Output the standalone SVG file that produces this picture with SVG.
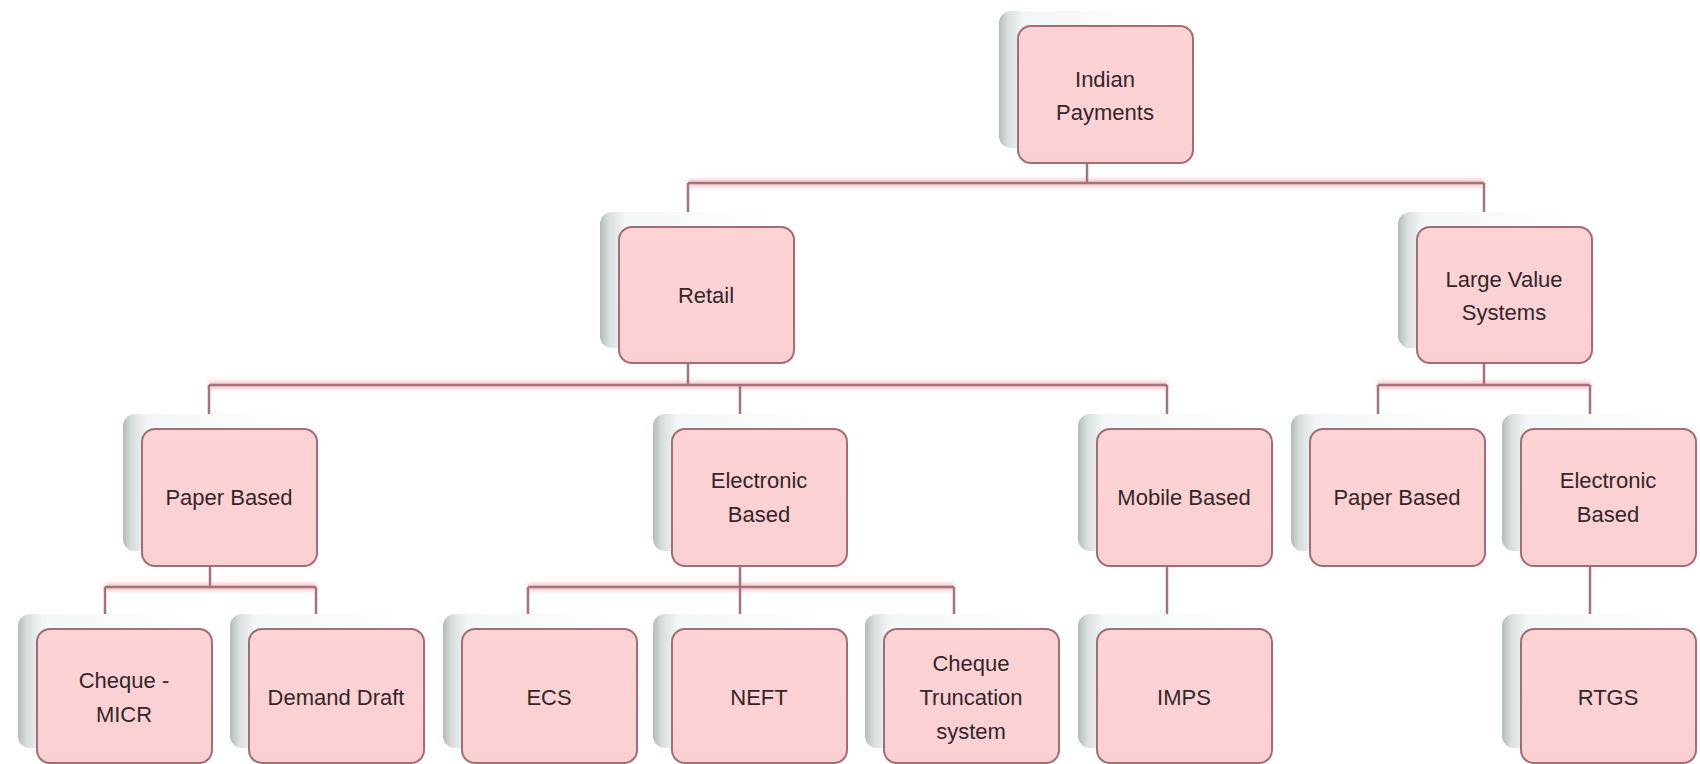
<svg xmlns="http://www.w3.org/2000/svg" width="1700" height="764" viewBox="0 0 1700 764">
  <defs>
    <!-- grey-to-white card sitting behind every node -->
    <linearGradient id="cardShade" x1="0" y1="0" x2="1" y2="0">
      <stop offset="0" stop-color="#b3bbbb"/>
      <stop offset="0.05" stop-color="#d8dede"/>
      <stop offset="0.14" stop-color="#f3f6f6"/>
      <stop offset="1" stop-color="#ffffff"/>
    </linearGradient>
    <linearGradient id="boxFill" x1="0" y1="0" x2="0" y2="1">
      <stop offset="0" stop-color="#fdd3d6"/>
      <stop offset="1" stop-color="#fbd0d3"/>
    </linearGradient>
    <filter id="soft" x="-10%" y="-10%" width="120%" height="120%">
      <feGaussianBlur stdDeviation="2"/>
    </filter>
  </defs>
  <style>
    .card { fill: url(#cardShade); }
    .box { fill: url(#boxFill); stroke: #a46c73; stroke-width: 2; }
    .lbl { font-family: "Liberation Sans", Arial, sans-serif; font-size: 22px; fill: #33262a; text-anchor: middle; }
    .halo { fill: none; stroke: #f1c3c9; stroke-width: 7; }
    .wire { fill: none; stroke: #a8727a; stroke-width: 2.5; }
  </style>

  <rect width="1700" height="764" fill="#ffffff"/>

  <!-- tree connectors -->
  <g id="connectors">
    <g filter="url(#soft)">
      <path class="halo" d="M688 183 H1484 M209 385 H1167 M1378 385 H1590 M105 587 H316 M528 587 H954"/>
    </g>
    <path class="wire" d="M1087 163 V183 M688 183 H1484 M688 183 V214 M1484 183 V214"/>
    <path class="wire" d="M688 363 V385 M209 385 H1167 M209 385 V416 M740 385 V416 M1167 385 V416"/>
    <path class="wire" d="M1484 363 V385 M1378 385 H1590 M1378 385 V416 M1590 385 V416"/>
    <path class="wire" d="M210 566 V587 M105 587 H316 M105 587 V616 M316 587 V616"/>
    <path class="wire" d="M740 566 V587 M528 587 H954 M528 587 V616 M740 587 V616 M954 587 V616"/>
    <path class="wire" d="M1167 566 V616"/>
    <path class="wire" d="M1590 566 V616"/>
  </g>

  <g id="indian-payments">
    <rect class="card" x="999" y="11" width="175" height="137" rx="12"/>
    <rect class="box" x="1018" y="26" width="175" height="137" rx="13"/>
    <text class="lbl" x="1105" y="87">Indian</text>
    <text class="lbl" x="1105" y="120">Payments</text>
  </g>

  <g id="retail">
    <rect class="card" x="600" y="212" width="175" height="136" rx="12"/>
    <rect class="box" x="619" y="227" width="175" height="136" rx="13"/>
    <text class="lbl" x="706" y="303">Retail</text>
  </g>

  <g id="large-value-systems">
    <rect class="card" x="1398" y="212" width="175" height="136" rx="12"/>
    <rect class="box" x="1417" y="227" width="175" height="136" rx="13"/>
    <text class="lbl" x="1504" y="287">Large Value</text>
    <text class="lbl" x="1504" y="320">Systems</text>
  </g>

  <g id="retail-paper-based">
    <rect class="card" x="123" y="414" width="175" height="137" rx="12"/>
    <rect class="box" x="142" y="429" width="175" height="137" rx="13"/>
    <text class="lbl" x="229" y="505">Paper Based</text>
  </g>

  <g id="retail-electronic-based">
    <rect class="card" x="653" y="414" width="175" height="137" rx="12"/>
    <rect class="box" x="672" y="429" width="175" height="137" rx="13"/>
    <text class="lbl" x="759" y="488">Electronic</text>
    <text class="lbl" x="759" y="522">Based</text>
  </g>

  <g id="mobile-based">
    <rect class="card" x="1078" y="414" width="175" height="137" rx="12"/>
    <rect class="box" x="1097" y="429" width="175" height="137" rx="13"/>
    <text class="lbl" x="1184" y="505">Mobile Based</text>
  </g>

  <g id="lvs-paper-based">
    <rect class="card" x="1291" y="414" width="175" height="137" rx="12"/>
    <rect class="box" x="1310" y="429" width="175" height="137" rx="13"/>
    <text class="lbl" x="1397" y="505">Paper Based</text>
  </g>

  <g id="lvs-electronic-based">
    <rect class="card" x="1502" y="414" width="175" height="137" rx="12"/>
    <rect class="box" x="1521" y="429" width="175" height="137" rx="13"/>
    <text class="lbl" x="1608" y="488">Electronic</text>
    <text class="lbl" x="1608" y="522">Based</text>
  </g>

  <g id="cheque-micr">
    <rect class="card" x="18" y="614" width="175" height="134" rx="12"/>
    <rect class="box" x="37" y="629" width="175" height="134" rx="13"/>
    <text class="lbl" x="124" y="688">Cheque -</text>
    <text class="lbl" x="124" y="722">MICR</text>
  </g>

  <g id="demand-draft">
    <rect class="card" x="230" y="614" width="175" height="134" rx="12"/>
    <rect class="box" x="249" y="629" width="175" height="134" rx="13"/>
    <text class="lbl" x="336" y="705">Demand Draft</text>
  </g>

  <g id="ecs">
    <rect class="card" x="443" y="614" width="175" height="134" rx="12"/>
    <rect class="box" x="462" y="629" width="175" height="134" rx="13"/>
    <text class="lbl" x="549" y="705">ECS</text>
  </g>

  <g id="neft">
    <rect class="card" x="653" y="614" width="175" height="134" rx="12"/>
    <rect class="box" x="672" y="629" width="175" height="134" rx="13"/>
    <text class="lbl" x="759" y="705">NEFT</text>
  </g>

  <g id="cheque-truncation-system">
    <rect class="card" x="865" y="614" width="175" height="134" rx="12"/>
    <rect class="box" x="884" y="629" width="175" height="134" rx="13"/>
    <text class="lbl" x="971" y="671">Cheque</text>
    <text class="lbl" x="971" y="705">Truncation</text>
    <text class="lbl" x="971" y="739">system</text>
  </g>

  <g id="imps">
    <rect class="card" x="1078" y="614" width="175" height="134" rx="12"/>
    <rect class="box" x="1097" y="629" width="175" height="134" rx="13"/>
    <text class="lbl" x="1184" y="705">IMPS</text>
  </g>

  <g id="rtgs">
    <rect class="card" x="1502" y="614" width="175" height="134" rx="12"/>
    <rect class="box" x="1521" y="629" width="175" height="134" rx="13"/>
    <text class="lbl" x="1608" y="705">RTGS</text>
  </g>
</svg>
